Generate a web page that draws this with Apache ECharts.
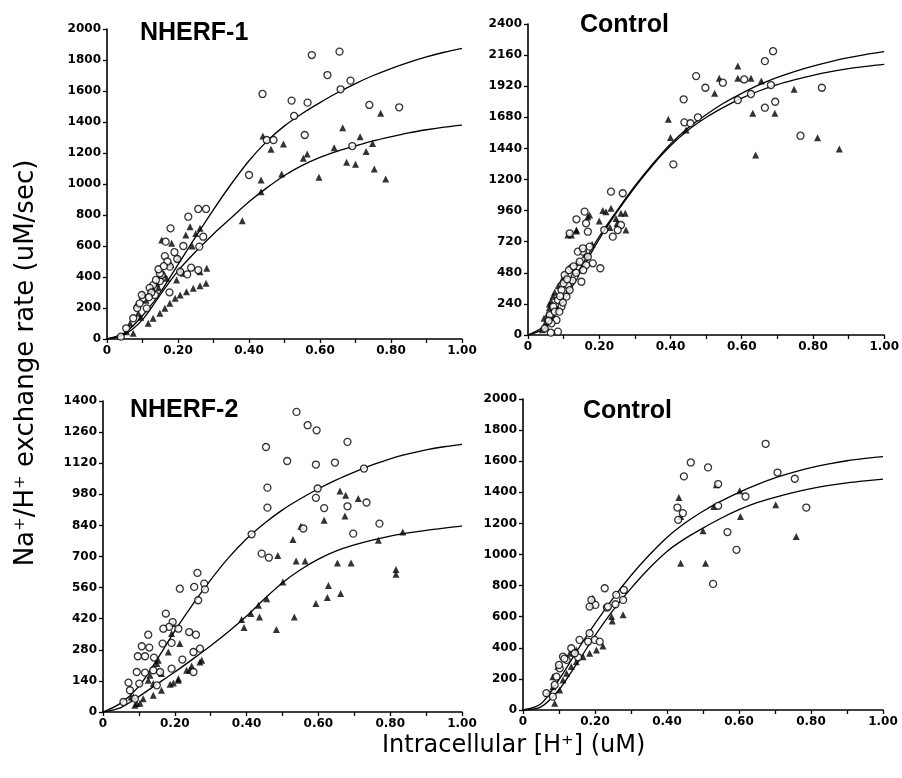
<!DOCTYPE html>
<html lang="en">
<head>
    <meta charset="utf-8">
    <title>Na/H exchange rate vs intracellular H+</title>
    <script src="https://cdn.jsdelivr.net/npm/echarts/dist/echarts.min.js"></script>
    <style>
        html, body {
            margin: 0;
            padding: 0;
            background-color: #ffffff;
        }

        #main {
            width: 902px;
            height: 778px;
        }
    </style>
</head>
<body>
<div id="main"></div>
<script>
    // panel titles and axis ranges
    var panelTitles = ['NHERF-1', 'Control', 'NHERF-2', 'Control'];
    var yMax = [2000, 2400, 1400, 2000];
    var yStep = [200, 240, 140, 200];

    var curveX = [0, 0.05, 0.1, 0.15, 0.2, 0.25, 0.3, 0.35, 0.4, 0.45, 0.5,
        0.55, 0.6, 0.65, 0.7, 0.75, 0.8, 0.85, 0.9, 0.95, 1.0];

    // NHERF-1
    var p1Circles = [[0.577, 1832], [0.655, 1854], [0.621, 1703], [0.686, 1667], [0.658, 1611], [0.438, 1581], [0.520, 1538],
        [0.565, 1525], [0.527, 1439], [0.739, 1510], [0.823, 1495], [0.557, 1316], [0.450, 1284], [0.469, 1284], [0.691, 1245],
        [0.400, 1058], [0.257, 839], [0.279, 839], [0.229, 789], [0.179, 714], [0.165, 628], [0.271, 660], [0.260, 596],
        [0.163, 535], [0.198, 516], [0.237, 460], [0.257, 445], [0.226, 417], [0.177, 467], [0.149, 374], [0.176, 301],
        [0.130, 348], [0.102, 263], [0.074, 134], [0.054, 69], [0.039, 15], [0.112, 198], [0.135, 284], [0.154, 413],
        [0.206, 434], [0.098, 284], [0.138, 381], [0.149, 424], [0.120, 330], [0.085, 200], [0.190, 560], [0.215, 600],
        [0.170, 500], [0.125, 300], [0.145, 450], [0.092, 230], [0.118, 270], [0.160, 470]];
    var p1Triangles = [[0.771, 1456], [0.664, 1363], [0.439, 1310], [0.713, 1305], [0.497, 1258], [0.462, 1224], [0.640, 1234],
        [0.748, 1262], [0.730, 1209], [0.564, 1194], [0.553, 1166], [0.675, 1140], [0.700, 1127], [0.753, 1097], [0.492, 1065],
        [0.597, 1043], [0.785, 1032], [0.434, 1026], [0.434, 950], [0.381, 763], [0.281, 456], [0.154, 639], [0.182, 617],
        [0.234, 725], [0.262, 714], [0.222, 671], [0.262, 434], [0.279, 359], [0.262, 344], [0.243, 327], [0.224, 305],
        [0.206, 284], [0.192, 263], [0.177, 230], [0.163, 198], [0.149, 166], [0.130, 134], [0.116, 101], [0.206, 445],
        [0.168, 392], [0.140, 359], [0.121, 305], [0.102, 284], [0.083, 219], [0.088, 166], [0.065, 101], [0.055, 47],
        [0.074, 37], [0.196, 381], [0.215, 424], [0.110, 250], [0.130, 320], [0.180, 480], [0.200, 520], [0.240, 600],
        [0.250, 680], [0.095, 140], [0.145, 330], [0.160, 420]];
    var p1CurveA = [0, 40, 150, 300, 480, 660, 835, 1000, 1150, 1275, 1375,
        1455, 1525, 1590, 1648, 1700, 1745, 1785, 1820, 1850, 1875];
    var p1CurveB = [0, 30, 125, 285, 440, 565, 678, 782, 885, 975, 1055,
        1120, 1172, 1212, 1246, 1278, 1305, 1330, 1350, 1367, 1380];

    // Control (top)
    var p2Circles = [[0.688, 2190], [0.665, 2113], [0.472, 1998], [0.607, 1972], [0.547, 1947], [0.498, 1908], [0.682, 1929],
        [0.825, 1908], [0.626, 1860], [0.589, 1813], [0.437, 1819], [0.694, 1800], [0.665, 1754], [0.477, 1680], [0.439, 1641],
        [0.456, 1634], [0.765, 1538], [0.408, 1317], [0.233, 1106], [0.266, 1094], [0.159, 952], [0.136, 893], [0.163, 862],
        [0.117, 785], [0.168, 797], [0.214, 810], [0.238, 759], [0.261, 849], [0.252, 810], [0.173, 682], [0.154, 643],
        [0.203, 515], [0.182, 553], [0.163, 540], [0.145, 566], [0.122, 515], [0.103, 463], [0.131, 450], [0.150, 411],
        [0.112, 386], [0.094, 347], [0.108, 296], [0.084, 270], [0.071, 219], [0.094, 219], [0.061, 154], [0.080, 116],
        [0.066, 90], [0.084, 26], [0.064, 18], [0.047, 51], [0.168, 604], [0.140, 643], [0.154, 669], [0.117, 347],
        [0.125, 420], [0.135, 480], [0.100, 400], [0.075, 180], [0.090, 300], [0.115, 500], [0.155, 500], [0.128, 530],
        [0.098, 250], [0.058, 110], [0.088, 180], [0.110, 430]];
    var p2Triangles = [[0.589, 2076], [0.537, 1981], [0.589, 1981], [0.626, 1981], [0.655, 1960], [0.524, 1865], [0.747, 1896],
        [0.394, 1665], [0.631, 1711], [0.693, 1711], [0.400, 1525], [0.444, 1582], [0.813, 1523], [0.639, 1389], [0.874, 1435],
        [0.122, 772], [0.136, 810], [0.173, 926], [0.219, 952], [0.233, 978], [0.247, 900], [0.273, 939], [0.261, 939],
        [0.275, 810], [0.136, 803], [0.112, 772], [0.168, 913], [0.230, 830], [0.250, 860], [0.040, 40], [0.050, 100],
        [0.055, 160], [0.060, 210], [0.065, 260], [0.070, 300], [0.075, 330], [0.085, 380], [0.095, 420], [0.105, 460],
        [0.050, 60], [0.045, 130], [0.060, 240], [0.140, 560], [0.160, 620], [0.180, 700], [0.200, 880], [0.210, 960]];
    var p2CurveA = [0, 80, 290, 530, 760, 960, 1150, 1320, 1475, 1600, 1700,
        1790, 1865, 1932, 1988, 2035, 2075, 2110, 2140, 2165, 2186];
    var p2CurveB = [0, 60, 260, 500, 740, 950, 1140, 1310, 1460, 1582, 1678,
        1758, 1828, 1885, 1932, 1970, 2003, 2032, 2055, 2073, 2089];

    // NHERF-2
    var p3Circles = [[0.539, 1351], [0.570, 1291], [0.595, 1268], [0.454, 1193], [0.681, 1216], [0.513, 1130], [0.593, 1114],
        [0.646, 1123], [0.727, 1096], [0.458, 1010], [0.598, 1006], [0.593, 964], [0.458, 920], [0.616, 918], [0.681, 926],
        [0.734, 943], [0.558, 826], [0.770, 848], [0.697, 803], [0.414, 800], [0.442, 713], [0.462, 695], [0.263, 626],
        [0.254, 563], [0.282, 578], [0.284, 552], [0.214, 555], [0.265, 503], [0.175, 443], [0.194, 405], [0.184, 383],
        [0.126, 348], [0.168, 375], [0.210, 375], [0.240, 360], [0.259, 348], [0.108, 296], [0.129, 290], [0.166, 308],
        [0.191, 311], [0.097, 251], [0.117, 251], [0.142, 245], [0.221, 236], [0.270, 285], [0.252, 270], [0.094, 180],
        [0.117, 177], [0.071, 132], [0.101, 128], [0.075, 98], [0.140, 188], [0.159, 180], [0.191, 195], [0.057, 45],
        [0.089, 60], [0.252, 180], [0.150, 120]];
    var p3Triangles = [[0.816, 642], [0.816, 620], [0.835, 810], [0.767, 773], [0.711, 961], [0.660, 995], [0.676, 976],
        [0.674, 882], [0.616, 863], [0.551, 836], [0.529, 777], [0.538, 680], [0.563, 680], [0.653, 671], [0.691, 671],
        [0.487, 705], [0.501, 585], [0.456, 510], [0.628, 570], [0.625, 515], [0.662, 533], [0.593, 488], [0.433, 480],
        [0.412, 443], [0.436, 428], [0.386, 416], [0.393, 380], [0.483, 371], [0.533, 428], [0.275, 233], [0.247, 207],
        [0.233, 188], [0.210, 150], [0.196, 131], [0.187, 125], [0.163, 98], [0.140, 75], [0.112, 60], [0.103, 39],
        [0.078, 68], [0.089, 30], [0.194, 398], [0.182, 270], [0.154, 233], [0.150, 218], [0.131, 165], [0.163, 173],
        [0.214, 308], [0.191, 353], [0.126, 143], [0.140, 128], [0.085, 68], [0.094, 38], [0.210, 143], [0.242, 188],
        [0.270, 225]];
    var p3CurveA = [0, 40, 115, 235, 365, 485, 595, 695, 780, 850, 910,
        960, 1005, 1045, 1080, 1112, 1140, 1162, 1180, 1194, 1205];
    var p3CurveB = [0, 20, 70, 125, 180, 238, 298, 362, 432, 510, 582,
        640, 688, 725, 752, 774, 792, 806, 818, 828, 837];

    // Control (bottom)
    var p4Circles = [[0.674, 1712], [0.466, 1592], [0.514, 1560], [0.447, 1502], [0.707, 1527], [0.755, 1487], [0.542, 1453],
        [0.429, 1302], [0.542, 1313], [0.787, 1302], [0.618, 1373], [0.444, 1266], [0.431, 1223], [0.568, 1144], [0.593, 1030],
        [0.528, 811], [0.227, 783], [0.280, 772], [0.259, 740], [0.201, 676], [0.233, 659], [0.257, 680], [0.278, 708],
        [0.185, 665], [0.190, 708], [0.236, 665], [0.185, 494], [0.199, 451], [0.213, 440], [0.157, 451], [0.134, 397],
        [0.111, 343], [0.102, 268], [0.093, 214], [0.088, 161], [0.065, 108], [0.153, 339], [0.181, 440], [0.144, 365],
        [0.121, 322], [0.083, 86], [0.100, 290], [0.115, 330]];
    var p4Triangles = [[0.433, 1367], [0.537, 1448], [0.602, 1410], [0.530, 1309], [0.438, 1244], [0.604, 1244], [0.702, 1320],
        [0.500, 1152], [0.438, 944], [0.507, 944], [0.759, 1116], [0.194, 719], [0.248, 573], [0.246, 601], [0.278, 612],
        [0.222, 412], [0.204, 386], [0.185, 365], [0.167, 343], [0.148, 311], [0.134, 279], [0.121, 236], [0.111, 193],
        [0.102, 129], [0.088, 43], [0.069, 108], [0.083, 150], [0.097, 279], [0.083, 214], [0.130, 365], [0.148, 386],
        [0.190, 680]];
    var p4CurveA = [0, 40, 195, 380, 555, 718, 865, 995, 1110, 1202, 1278,
        1343, 1400, 1450, 1493, 1528, 1558, 1583, 1603, 1618, 1630];
    var p4CurveB = [0, 20, 130, 300, 478, 640, 782, 910, 1020, 1102, 1170,
        1233, 1288, 1333, 1368, 1398, 1423, 1444, 1461, 1474, 1485];

    var circles = [p1Circles, p2Circles, p3Circles, p4Circles];
    var triangles = [p1Triangles, p2Triangles, p3Triangles, p4Triangles];
    var curvesA = [p1CurveA, p2CurveA, p3CurveA, p4CurveA];
    var curvesB = [p1CurveB, p2CurveB, p3CurveB, p4CurveB];

    var grids = [
        {left: 107, top: 29, width: 355, height: 310},
        {left: 528, top: 24, width: 359, height: 311},
        {left: 103, top: 401, width: 359, height: 311},
        {left: 523, top: 399, width: 360, height: 311}
    ];
    var titlePos = [[140, 21], [580, 13], [130, 398], [583, 399]];

    var tickFont = {color: '#000', fontFamily: 'DejaVu Sans', fontWeight: 'bold', fontSize: 12};
    var axisLine = {lineStyle: {color: '#000', width: 1.6}};

    function zip(xs, ys) {
        var out = [];
        for (var i = 0; i < xs.length; i++) {
            out.push([xs[i], ys[i]]);
        }
        return out;
    }

    var xAxes = [], yAxes = [], series = [], titles = [];
    for (var p = 0; p < 4; p++) {
        xAxes.push({
            type: 'value', gridIndex: p, min: 0, max: 1, interval: 0.1,
            axisLine: axisLine,
            axisTick: {show: true, length: 4, lineStyle: {color: '#000', width: 1.3}},
            splitLine: {show: false},
            axisLabel: {
                margin: 6,
                formatter: function (v) {
                    var k = Math.round(v * 10);
                    if (k % 2) return '';
                    return k === 0 ? '0' : (k / 10).toFixed(2);
                },
                color: tickFont.color, fontFamily: tickFont.fontFamily,
                fontWeight: tickFont.fontWeight, fontSize: tickFont.fontSize
            }
        });
        yAxes.push({
            type: 'value', gridIndex: p, min: 0, max: yMax[p], interval: yStep[p],
            axisLine: {show: true, lineStyle: axisLine.lineStyle},
            axisTick: {show: true, length: 4, lineStyle: {color: '#000', width: 1.3}},
            splitLine: {show: false},
            axisLabel: {
                margin: 6,
                formatter: function (v) {
                    return String(v);
                },
                color: tickFont.color, fontFamily: tickFont.fontFamily,
                fontWeight: tickFont.fontWeight, fontSize: tickFont.fontSize
            }
        });
        titles.push({
            text: panelTitles[p], left: titlePos[p][0], top: titlePos[p][1], padding: 0,
            textStyle: {color: '#000', fontFamily: 'Liberation Sans', fontWeight: 'bold', fontSize: 25}
        });
        series.push({
            type: 'line', xAxisIndex: p, yAxisIndex: p, data: zip(curveX, curvesA[p]),
            smooth: 0.3, showSymbol: false, z: 2, lineStyle: {color: '#000', width: 1.3}
        });
        series.push({
            type: 'line', xAxisIndex: p, yAxisIndex: p, data: zip(curveX, curvesB[p]),
            smooth: 0.3, showSymbol: false, z: 2, lineStyle: {color: '#000', width: 1.3}
        });
        series.push({
            type: 'scatter', xAxisIndex: p, yAxisIndex: p, data: triangles[p],
            symbol: 'triangle', symbolSize: 7, z: 3, itemStyle: {color: '#000'}
        });
        series.push({
            type: 'scatter', xAxisIndex: p, yAxisIndex: p, data: circles[p],
            symbol: 'circle', symbolSize: 7, z: 4,
            itemStyle: {color: '#fff', borderColor: '#000', borderWidth: 1.3}
        });
    }

    var myChart = echarts.init(document.getElementById('main'));
    myChart.setOption({
        backgroundColor: '#fff',
        animation: false,
        title: titles,
        grid: grids,
        xAxis: xAxes,
        yAxis: yAxes,
        series: series,
        graphic: [
            {
                type: 'text', x: 26, y: 363, rotation: Math.PI / 2,
                style: {
                    text: 'Na\u207A/H\u207A exchange rate (uM/sec)', fill: '#000',
                    font: '26px "DejaVu Sans"', align: 'center', verticalAlign: 'middle'
                }
            },
            {
                type: 'text', left: 382, top: 734,
                style: {text: 'Intracellular [H\u207A] (uM)', fill: '#000', font: '24px "DejaVu Sans"'}
            }
        ]
    });
</script>
</body>
</html>
